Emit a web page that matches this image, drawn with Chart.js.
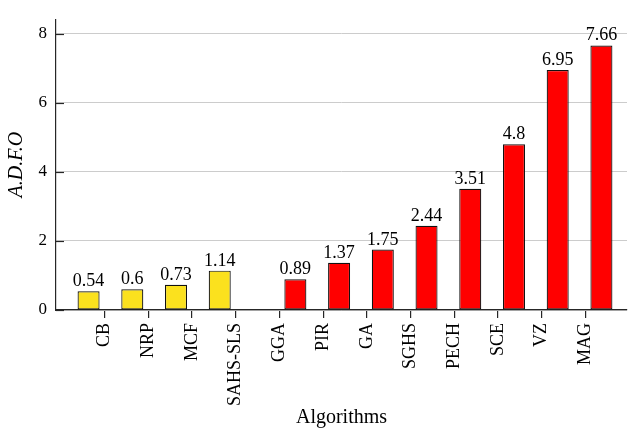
<!DOCTYPE html>
<html>
<head>
<meta charset="utf-8">
<script src="https://cdn.jsdelivr.net/npm/chart.js@4/dist/chart.umd.min.js"></script>
<style>
  html, body { margin: 0; padding: 0; background: #ffffff; }
  #wrap { width: 628px; height: 432px; }
</style>
</head>
<body>
<div id="wrap"><canvas id="chart" width="628" height="432"></canvas></div>
<script>
// Algorithm names along the x axis
const categories = ['CB', 'NRP', 'MCF', 'SAHS-SLS', 'GGA', 'PIR', 'GA', 'SGHS', 'PECH', 'SCE', 'VZ', 'MAG'];
// First group (yellow) and second group (red) of algorithms
const groupA = ['CB', 'NRP', 'MCF', 'SAHS-SLS'];
const groupAValues = [0.54, 0.6, 0.73, 1.14];
const groupB = ['GGA', 'PIR', 'GA', 'SGHS', 'PECH', 'SCE', 'VZ', 'MAG'];
const groupBValues = [0.89, 1.37, 1.75, 2.44, 3.51, 4.8, 6.95, 7.66];
// Y axis tick values
const yTicks = [0, 2, 4, 6, 8];

const FONT = "'Liberation Serif', 'Times New Roman', serif";
const AXIS_COLOR = '#262626';

const toPoints = (names, vals) => names.map((n, i) => ({ x: categories.indexOf(n), y: vals[i] }));

// Writes each bar's value just above it
const valueLabels = {
  id: 'valueLabels',
  afterDatasetsDraw(chart) {
    const ctx = chart.ctx;
    ctx.save();
    ctx.fillStyle = '#000';
    ctx.font = '18px ' + FONT;
    ctx.textAlign = 'center';
    ctx.textBaseline = 'alphabetic';
    chart.data.datasets.forEach((ds, di) => {
      const meta = chart.getDatasetMeta(di);
      meta.data.forEach((bar, i) => {
        const v = ds.data[i].y;
        if (v == null) return;
        ctx.fillText(String(v), bar.x, bar.y - 5);
      });
    });
    ctx.restore();
  }
};

// Short inward tick marks on the y axis
const innerYTicks = {
  id: 'innerYTicks',
  afterDraw(chart) {
    const y = chart.scales.y;
    const ctx = chart.ctx;
    ctx.save();
    ctx.strokeStyle = AXIS_COLOR;
    ctx.lineWidth = 1.2;
    y.ticks.forEach(t => {
      const py = Math.round(y.getPixelForValue(t.value)) + 0.5;
      ctx.beginPath();
      ctx.moveTo(y.right, py);
      ctx.lineTo(y.right + 8, py);
      ctx.stroke();
    });
    ctx.restore();
  }
};

new Chart(document.getElementById('chart'), {
  type: 'bar',
  data: {
    datasets: [
      {
        data: toPoints(groupA, groupAValues),
        backgroundColor: '#FBE11E',
        borderColor: '#111111',
        borderWidth: 1.2,
        borderSkipped: false,
        categoryPercentage: 1.46,
        barPercentage: 0.69
      },
      {
        data: toPoints(groupB, groupBValues),
        backgroundColor: '#FF0000',
        borderColor: '#111111',
        borderWidth: 1.2,
        borderSkipped: false,
        categoryPercentage: 1.46,
        barPercentage: 0.69
      }
    ]
  },
  options: {
    responsive: false,
    animation: false,
    devicePixelRatio: 1,
    layout: { padding: { top: 10, right: 1, left: 0, bottom: 0 } },
    plugins: { legend: { display: false }, tooltip: { enabled: false } },
    scales: {
      x: {
        type: 'linear',
        offset: false,
        min: -1.11,
        max: 11.95,
        afterBuildTicks: (scale) => { scale.ticks = categories.map((c, i) => ({ value: i })); },
        afterFit: (scale) => { scale.height = 122; },
        grid: { offset: false, drawOnChartArea: false, drawTicks: true, tickLength: 8, color: AXIS_COLOR, lineWidth: 1.2 },
        border: { display: true, color: AXIS_COLOR, width: 1.2 },
        ticks: {
          autoSkip: false,
          minRotation: 90,
          maxRotation: 90,
          padding: 5,
          color: '#000',
          font: { family: FONT, size: 18 },
          callback: (v) => categories[v]
        },
        title: {
          display: true,
          text: 'Algorithms',
          color: '#000',
          font: { family: FONT, size: 20 },
          padding: { top: 0, bottom: 2 }
        }
      },
      y: {
        min: 0,
        max: 8.42,
        afterBuildTicks: (scale) => { scale.ticks = yTicks.map(v => ({ value: v })); },
        afterFit: (scale) => { scale.width = 56; },
        grid: { drawTicks: false, color: '#cccccc', lineWidth: 1 },
        border: { display: true, color: AXIS_COLOR, width: 1.2 },
        ticks: {
          padding: 9,
          color: '#000',
          font: { family: FONT, size: 17 }
        },
        title: {
          display: true,
          text: 'A.D.F.O',
          color: '#000',
          font: { family: FONT, size: 20, style: 'italic' },
          padding: { top: 5, bottom: 0 }
        }
      }
    }
  },
  plugins: [valueLabels, innerYTicks]
});
</script>
</body>
</html>
